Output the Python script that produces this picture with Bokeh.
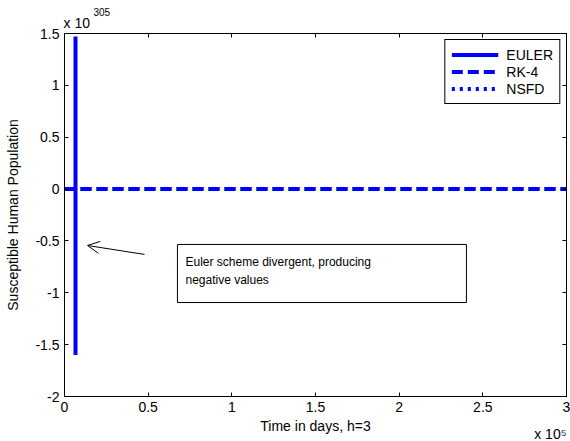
from bokeh.plotting import figure
from bokeh.models import (LinearAxis, FixedTicker, Range1d, Legend, LegendItem,
                          Label, BoxAnnotation, Arrow, OpenHead, Title)
from bokeh.embed import file_html
from bokeh.resources import INLINE

# ---- data (time in units of 1e5 days, population in units of 1e305) ----
euler_t = [0.0, 0.0657, 0.06573, 0.06576]
euler_s = [0.0, 0.0, 1.47, -1.60]
rk4_t = [0.0, 3.0]
rk4_s = [0.0, 0.0]
nsfd_t = [0.0, 3.0]
nsfd_s = [0.0, 0.0]

x_ticks = [0, 0.5, 1, 1.5, 2, 2.5, 3]
x_tick_labels = ["0", "0.5", "1", "1.5", "2", "2.5", "3"]
y_ticks = [-2, -1.5, -1, -0.5, 0, 0.5, 1, 1.5]
y_tick_labels = ["-2", "-1.5", "-1", "-0.5", "0", "0.5", "1", "1.5"]

FONT = "Liberation Sans"
BLUE = "#0000FF"

p = figure(width=570, height=441, output_backend="svg", toolbar_location=None,
           x_range=Range1d(0, 3), y_range=Range1d(-2, 1.5),
           min_border_left=64, min_border_right=4, min_border_top=33,
           min_border_bottom=45, x_axis_label="Time in days, h=3",
           y_axis_label="Susceptible Human Population")
p.grid.visible = False
p.outline_line_color = "black"
p.outline_line_width = 1
p.background_fill_color = "white"
p.border_fill_color = "white"

def style_axis(ax, ticks, labels, show_labels=True):
    ax.ticker = FixedTicker(ticks=ticks)
    if show_labels:
        ax.major_label_overrides = {t: l for t, l in zip(ticks, labels)}
    else:
        ax.major_label_overrides = {t: "" for t in ticks}
        ax.major_label_standoff = 0
    ax.major_tick_in = 4
    ax.major_tick_out = 0
    ax.minor_tick_in = 0
    ax.minor_tick_out = 0
    ax.axis_line_color = "black"
    ax.major_tick_line_color = "black"
    ax.major_label_text_font = FONT
    ax.major_label_text_font_size = "14px"
    ax.major_label_text_color = "black"
    ax.axis_label_text_font = FONT
    ax.axis_label_text_font_size = "14px"
    ax.axis_label_text_font_style = "normal"
    ax.axis_label_text_color = "black"

style_axis(p.xaxis[0], x_ticks, x_tick_labels)
style_axis(p.yaxis[0], y_ticks, y_tick_labels)
p.xaxis[0].major_label_standoff = 5
p.xaxis[0].axis_label_standoff = 3
p.yaxis[0].major_label_standoff = 5
p.yaxis[0].axis_label_standoff = 11

top_ax = LinearAxis()
style_axis(top_ax, x_ticks, x_tick_labels, show_labels=False)
p.add_layout(top_ax, "above")
right_ax = LinearAxis()
style_axis(right_ax, y_ticks, y_tick_labels, show_labels=False)
p.add_layout(right_ax, "right")

# ---- lines ----
r_nsfd = p.line(nsfd_t, nsfd_s, line_color=BLUE, line_width=4, line_dash="3 5")
r_rk4 = p.line(rk4_t, rk4_s, line_color=BLUE, line_width=4, line_dash="11 5")
r_euler = p.line(euler_t, euler_s, line_color=BLUE, line_width=4)

legend = Legend(items=[LegendItem(label="EULER", renderers=[r_euler]),
                       LegendItem(label="RK-4", renderers=[r_rk4]),
                       LegendItem(label="NSFD", renderers=[r_nsfd])],
                location="top_right")
legend.margin = 6
legend.padding = 6
legend.spacing = 0
legend.glyph_width = 47
legend.glyph_height = 17
legend.label_height = 17
legend.label_standoff = 8
legend.label_text_font = FONT
legend.label_text_font_size = "14px"
legend.label_text_color = "black"
legend.border_line_color = "black"
legend.border_line_alpha = 1
legend.border_line_width = 1
legend.background_fill_alpha = 1
p.add_layout(legend)

# ---- annotation box, arrow and text ----
box = BoxAnnotation(left=0.675, right=2.402, top=-0.534, bottom=-1.094,
                    fill_color="white", fill_alpha=1, line_color="black",
                    line_alpha=1, line_width=1, level="overlay")
p.add_layout(box)
p.add_layout(Label(x=0.723, y=-0.534, y_offset=-18, text="Euler scheme divergent, producing",
                   text_font=FONT, text_font_size="12px", text_baseline="middle",
                   text_color="black", level="overlay"))
p.add_layout(Label(x=0.723, y=-0.534, y_offset=-36, text="negative values",
                   text_font=FONT, text_font_size="12px", text_baseline="middle",
                   text_color="black", level="overlay"))
p.add_layout(Arrow(x_start=0.478, y_start=-0.63, x_end=0.1375, y_end=-0.544,
                   line_color="black", line_width=1,
                   end=OpenHead(size=12, line_color="black", line_width=1)))

# ---- exponent labels as titles in the side panels ----
p.add_layout(Title(text="x 10", align="left", offset=-1, standoff=6,
                   vertical_align="bottom", text_font=FONT, text_font_size="14px",
                   text_font_style="normal", text_color="black"), "above")
p.add_layout(Title(text="305", align="left", offset=29, standoff=-13,
                   vertical_align="bottom", text_font=FONT, text_font_size="10px",
                   text_font_style="normal", text_color="black"), "above")
p.add_layout(Title(text="x 10\u2075", align="right", offset=0, standoff=-21,
                   vertical_align="top", text_font=FONT, text_font_size="14px",
                   text_font_style="normal", text_color="black"), "below")

open("out.html", "w").write(file_html(p, INLINE))
